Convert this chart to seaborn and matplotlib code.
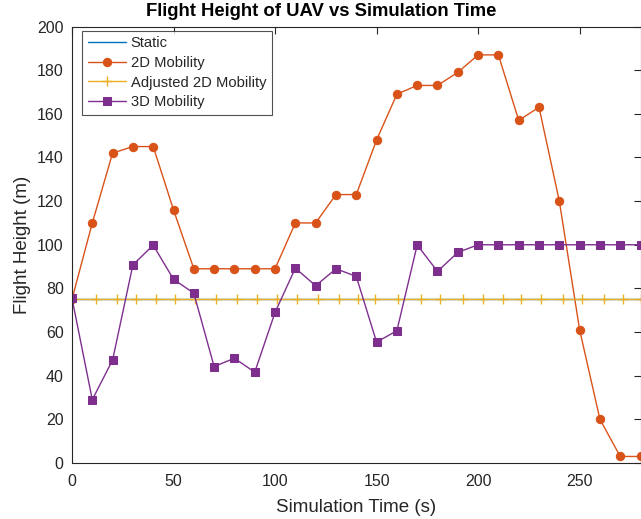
import matplotlib
matplotlib.use("Agg")
import matplotlib.pyplot as plt
import seaborn as sns
import numpy as np
import pandas as pd

time_s = [0, 10, 20, 30, 40, 50, 60, 70, 80, 90, 100, 110, 120, 130, 140,
          150, 160, 170, 180, 190, 200, 210, 220, 230, 240, 250, 260, 270, 280]
static_h = [75] * len(time_s)
mob2d_h = [75, 110, 142, 145, 145, 116, 89, 89, 89, 89, 89, 110, 110, 123, 123,
           148, 169, 173, 173, 179, 187, 187, 157, 163, 120, 61, 20, 3, 3]
adj_time = [0, 11.7, 22, 31.5, 41.2, 50.7, 60.6, 71, 81.1, 91.3, 101.2, 111, 121,
            131.6, 141, 149.3, 160.4, 171.7, 181.2, 192.7, 202.3, 212.5, 221, 231,
            242, 251.4, 262, 271.6, 280]
adj_h = [75] * len(adj_time)
mob3d_h = [75.5, 29, 47.2, 90.8, 99.8, 84.2, 77.8, 44.2, 48, 41.6, 69, 89.3, 81.2,
           89, 85.5, 55.4, 60.6, 99.9, 87.8, 96.5, 100, 100, 100, 100, 100, 100,
           100, 100, 100]

sns.set_style("white")
plt.rcParams['font.family'] = ['Liberation Sans', 'DejaVu Sans']

fig = plt.figure(figsize=(6.41, 5.19), dpi=100)
ax = fig.add_axes([0.1123, 0.1079, 0.887, 0.841])

c_blue, c_orange, c_yellow, c_purple = "#0072BD", "#D95319", "#EDB120", "#7E2F8E"

sns.lineplot(x=time_s, y=static_h, ax=ax, color=c_blue, lw=1.0, label="Static")
sns.lineplot(x=time_s, y=mob2d_h, ax=ax, color=c_orange, lw=1.0, marker="o",
             markersize=6, markeredgecolor=c_orange, label="2D Mobility")
sns.lineplot(x=adj_time, y=adj_h, ax=ax, color=c_yellow, lw=1.0, marker="+",
             markersize=7, markeredgecolor=c_yellow, markeredgewidth=1.0,
             label="Adjusted 2D Mobility")
sns.lineplot(x=time_s, y=mob3d_h, ax=ax, color=c_purple, lw=1.0, marker="s",
             markersize=6, markeredgecolor=c_purple, label="3D Mobility")

ax.set_xlim(0, 280)
ax.set_ylim(0, 200)
ax.set_xticks([0, 50, 100, 150, 200, 250])
ax.set_yticks(range(0, 201, 20))
ax.tick_params(direction="in", top=True, right=True, length=5, labelsize=11.5,
               color="#262626", width=0.8, labelcolor="#262626")
ax.tick_params(axis="x", pad=8)
ax.tick_params(axis="y", pad=6)
for s in ax.spines.values():
    s.set_color("#262626")
    s.set_linewidth(0.8)
ax.set_xlabel("Simulation Time (s)", fontsize=13.5, color="#262626", labelpad=7)
ax.set_ylabel("Flight Height (m)", fontsize=13.5, color="#262626", labelpad=4)
fig.text(321 / 641, 1 - 12 / 519, "Flight Height of UAV vs Simulation Time",
         fontsize=13.3, fontweight="bold", color="black", ha="center", va="center")
leg = ax.legend(loc="upper left", bbox_to_anchor=(10 / 569, 1 - 4 / 436),
                fontsize=10.6, frameon=True, fancybox=False,
                edgecolor="#262626", borderaxespad=0.0, handlelength=2.6,
                labelspacing=0.38, borderpad=0.4, handletextpad=0.3)
leg.get_frame().set_linewidth(0.8)

fig.savefig("out.png", dpi=100)
